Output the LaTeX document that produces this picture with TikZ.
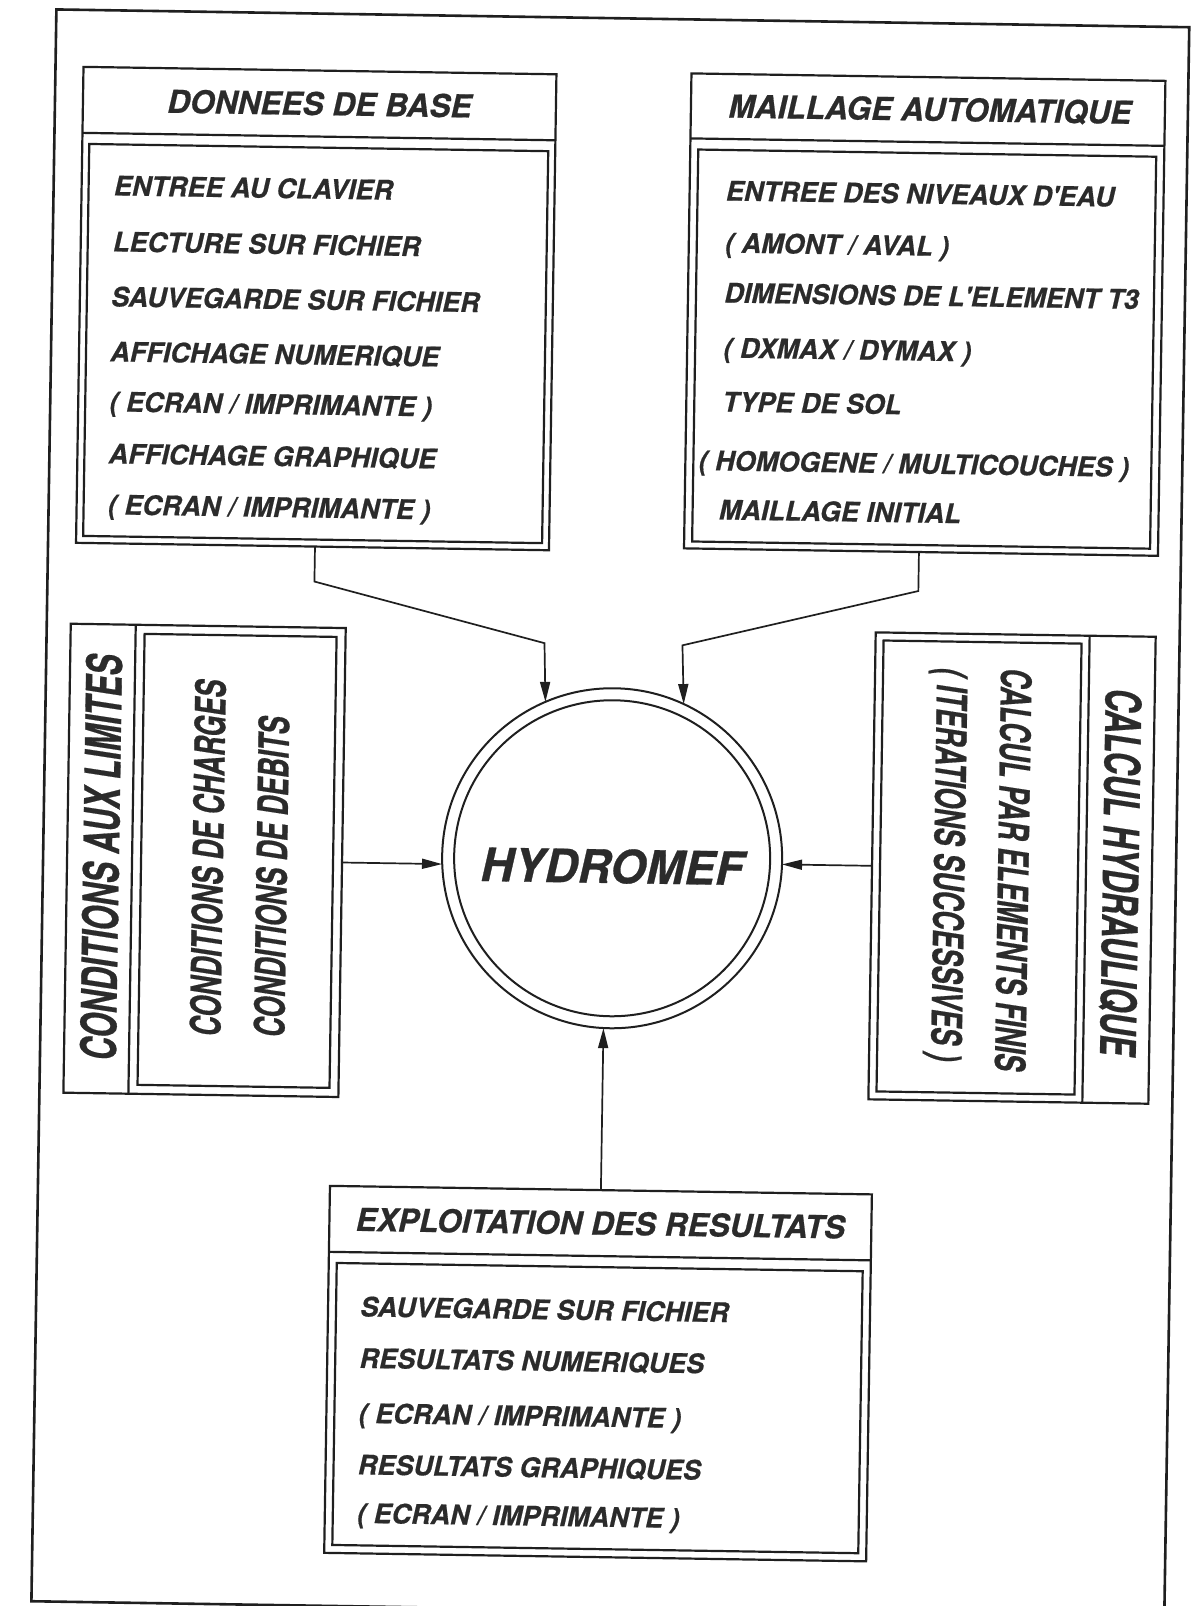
\documentclass[tikz,border=0pt]{standalone}
\usepackage{fontspec}
\setmainfont{TeX Gyre Heros}
\newfontfamily\hvb{texgyreheros-bolditalic.otf}[FakeBold=0.6]
\usepackage{graphicx}
\usetikzlibrary{arrows.meta}
\definecolor{ink}{HTML}{1F1F1F}
\definecolor{txt}{HTML}{2B2B2B}
\newcommand{\bodyfnt}{\hvb\fontsize{13.5}{16}\selectfont}
\newcommand{\titlefnt}{\hvb\fontsize{15.8}{19}\selectfont}
\newcommand{\bigfnt}{\hvb\fontsize{23}{27}\selectfont}
\newcommand{\vsc}[1]{\scalebox{1}[1.55]{#1}}
\begin{document}
\begin{tikzpicture}[x=0.5pt,y=-0.5pt,
  box/.style={draw=ink,line width=1.1pt,inner sep=0pt,outer sep=0pt,rectangle},
  ln/.style={draw=ink,line width=1.1pt},
  ring/.style={draw=ink,line width=1.0pt,circle,inner sep=0pt,outer sep=0pt},
  conn/.style={draw=ink,line width=0.85pt},
  arr/.style={conn,-{Triangle[length=10pt,width=5pt]}},
  body/.style={text=txt,font=\bodyfnt,inner sep=0pt,anchor=base west},
  ttl/.style={text=txt,font=\titlefnt,inner sep=0pt},
]
\fill[white] (0,0) rectangle (1192,1606);
\useasboundingbox (0,0) rectangle (1192,1606);
\begin{scope}[rotate around={-0.9:(596,803)}, every node/.append style={transform shape}]
% page frame
\node[draw=ink,line width=1.3pt,inner sep=0pt,minimum width=566.5pt,minimum height=796pt] (frame) at (610.5,814) {};

% DONNEES DE BASE
\node[box,minimum width=236.5pt,minimum height=238pt] (donnees) at (308.5,313) {};
\draw[ln] (donnees.north west) ++(0,66) -- ++(473,0);
\node[box,minimum width=229.5pt,minimum height=196pt] (donneesIn) at (308.5,348) {};
\node[ttl] (donneesT) at (308.5,108) {DONNEES DE BASE};
\node[body] (d1) at (104,203) {ENTREE AU CLAVIER};
\node[body] (d2) at (104,259) {LECTURE SUR FICHIER};
\node[body] (d3) at (103,314) {SAUVEGARDE SUR FICHIER};
\node[body] (d4) at (103,369) {AFFICHAGE NUMERIQUE};
\node[body] (d5) at (103,419) {( ECRAN / IMPRIMANTE )};
\node[body] (d6) at (103,471) {AFFICHAGE GRAPHIQUE};
\node[body] (d7) at (103,522) {( ECRAN / IMPRIMANTE )};

% MAILLAGE AUTOMATIQUE
\node[box,minimum width=237pt,minimum height=237.5pt] (maill) at (917,309.5) {};
\draw[ln] (maill.north west) ++(0,65) -- ++(474,0);
\node[box,minimum width=229pt,minimum height=196pt] (maillIn) at (917,344) {};
\node[ttl] (maillT) at (919,104.5) {MAILLAGE AUTOMATIQUE};
\node[body] (m1) at (716,198.5) {ENTREE DES NIVEAUX D'EAU};
\node[body] (m2) at (716,250.5) {( AMONT / AVAL )};
\node[body] (m3) at (716,300.5) {DIMENSIONS DE L'ELEMENT T3};
\node[body] (m4) at (716,355.5) {( DXMAX / DYMAX )};
\node[body] (m5) at (716,409.5) {TYPE DE SOL};
\node[body] (m6) at (693,468.5) {( HOMOGENE / MULTICOUCHES )};
\node[body] (m7) at (714,517.5) {MAILLAGE INITIAL};

% CONDITIONS AUX LIMITES
\node[box,minimum width=137.5pt,minimum height=234.5pt] (climb) at (205.5,866.5) {};
\draw[ln] (climb.north west) ++(65,0) -- ++(0,469);
\node[box,minimum width=96pt,minimum height=225.5pt] (climbIn) at (238,866.5) {};
\node[ttl,rotate=90] (climbT) at (102,865) {\vsc{CONDITIONS AUX LIMITES}};
\node[body,rotate=90] (c1) at (224,1042.5) {\vsc{CONDITIONS DE CHARGES}};
\node[body,rotate=90] (c2) at (288,1042.5) {\vsc{CONDITIONS DE DEBITS}};

% CALCUL HYDRAULIQUE
\node[box,minimum width=140pt,minimum height=233.5pt] (calc) at (1013,861.5) {};
\draw[ln] (calc.north east) ++(-66,0) -- ++(0,467);
\node[box,minimum width=99pt,minimum height=225.5pt] (calcIn) at (980,861.5) {};
\node[ttl,rotate=-90] (calcT) at (1121,864) {\vsc{CALCUL HYDRAULIQUE}};
\node[body,rotate=-90] (h1) at (999,661.5) {\vsc{CALCUL PAR ELEMENTS FINIS}};
\node[body,rotate=-90] (h2) at (935,662) {\vsc{( ITERATIONS SUCCESSIVES )}};

% EXPLOITATION DES RESULTATS
\node[box,minimum width=271pt,minimum height=183.5pt] (expl) at (607,1373.5) {};
\draw[ln] (expl.north west) ++(0,66) -- ++(542,0);
\node[box,minimum width=263pt,minimum height=141pt] (explIn) at (607,1408) {};
\node[ttl] (explT) at (607,1223) {EXPLOITATION DES RESULTATS};
\node[body] (e1) at (368,1320) {SAUVEGARDE SUR FICHIER};
\node[body] (e2) at (368,1371.5) {RESULTATS NUMERIQUES};
\node[body] (e3) at (368,1426.5) {( ECRAN / IMPRIMANTE )};
\node[body] (e4) at (368,1478) {RESULTATS GRAPHIQUES};
\node[body] (e5) at (368,1526.5) {( ECRAN / IMPRIMANTE )};

% HYDROMEF
\node[ring,minimum size=170pt] (hyd) at (613,858) {};
\node[ring,minimum size=158pt] (hydIn) at (613,858) {};
\node[text=txt,font=\bigfnt,inner sep=0pt] (hydT) at (613,866) {HYDROMEF};

% connectors
\coordinate (cL1) at (311,586);
\coordinate (cL2) at (542,644);
\draw[arr] (cL1 |- donnees.south) -- (cL1) -- (cL2) -- (hyd.114.7);
\coordinate (cR1) at (915,586);
\coordinate (cR2) at (680,644);
\draw[arr] (cR1 |- maill.south) -- (cR1) -- (cR2) -- (hyd.66.8);
\draw[arr] (climb.east) -- (climb.east -| hyd.west);
\draw[arr] (calc.west) -- (calc.west -| hyd.east);
\draw[arr] (expl.north) -- (expl.north |- hyd.south);
\end{scope}
\end{tikzpicture}
\end{document}
